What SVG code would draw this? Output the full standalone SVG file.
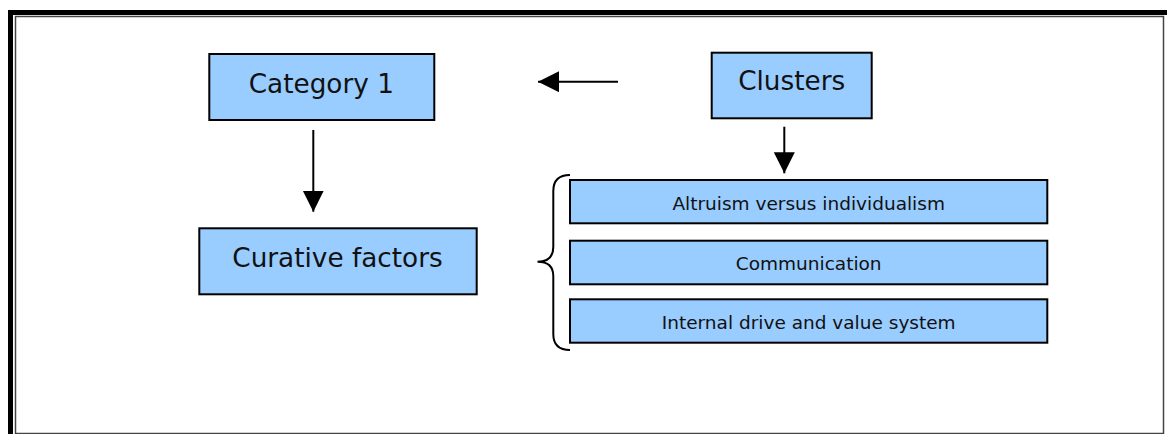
<svg xmlns="http://www.w3.org/2000/svg" width="1167" height="434" viewBox="0 0 1167 434">
<defs>
<style>
.box{fill:#99CCFF;stroke:#000;stroke-width:2}
.big{font-family:"DejaVu Sans",Verdana,sans-serif;font-size:26.3px;fill:#111;text-anchor:middle}
.small{font-family:"DejaVu Sans",Verdana,sans-serif;font-size:18.5px;fill:#111;text-anchor:middle}
.conn{stroke:#000;stroke-width:2;fill:none}
</style>
<marker id="ah" markerUnits="userSpaceOnUse" markerWidth="22" markerHeight="22" refX="21" refY="10.5" orient="auto">
<path d="M0,0 L21,10.5 L0,21 Z" fill="#000"/>
</marker>
</defs>
<rect width="1167" height="434" fill="#fff"/>
<g id="frame">
<path d="M10.5,434 L10.5,12.5 L1167,12.5" fill="none" stroke="#000" stroke-width="5"/>
<rect x="15.5" y="16.5" width="1148" height="417" fill="none" stroke="#444" stroke-width="1.5"/>
</g>
<g id="connectors">
<line class="conn" x1="618" y1="81.7" x2="538" y2="81.7" marker-end="url(#ah)"/>
<line class="conn" x1="784.3" y1="126.7" x2="784.3" y2="173.3" marker-end="url(#ah)"/>
<line class="conn" x1="313.3" y1="130" x2="313.3" y2="211.7" marker-end="url(#ah)"/>
<path class="conn" d="M570,175 Q553.3,175 553.3,191 L553.3,247 Q553.3,261.7 537.5,261.7 Q553.3,261.7 553.3,276 L553.3,334 Q553.3,350 570,350"/>
</g>
<g id="category1">
<rect class="box" x="209.3" y="54" width="225" height="66"/>
<text class="big" x="321.3" y="92.7">Category 1</text>
</g>
<g id="clusters">
<rect class="box" x="711.7" y="52.7" width="160" height="65.6"/>
<text class="big" x="791.7" y="90">Clusters</text>
</g>
<g id="curative">
<rect class="box" x="199.3" y="228.3" width="277.4" height="66"/>
<text class="big" x="337.5" y="266.7">Curative factors</text>
</g>
<g id="altruism">
<rect class="box" x="570" y="180" width="477.3" height="43.3"/>
<text class="small" x="808.7" y="209.5">Altruism versus individualism</text>
</g>
<g id="communication">
<rect class="box" x="570" y="240.7" width="477.3" height="43.6"/>
<text class="small" x="808.7" y="270">Communication</text>
</g>
<g id="internal">
<rect class="box" x="570" y="299.3" width="477.3" height="43.4"/>
<text class="small" x="808.7" y="328.5">Internal drive and value system</text>
</g>
</svg>
